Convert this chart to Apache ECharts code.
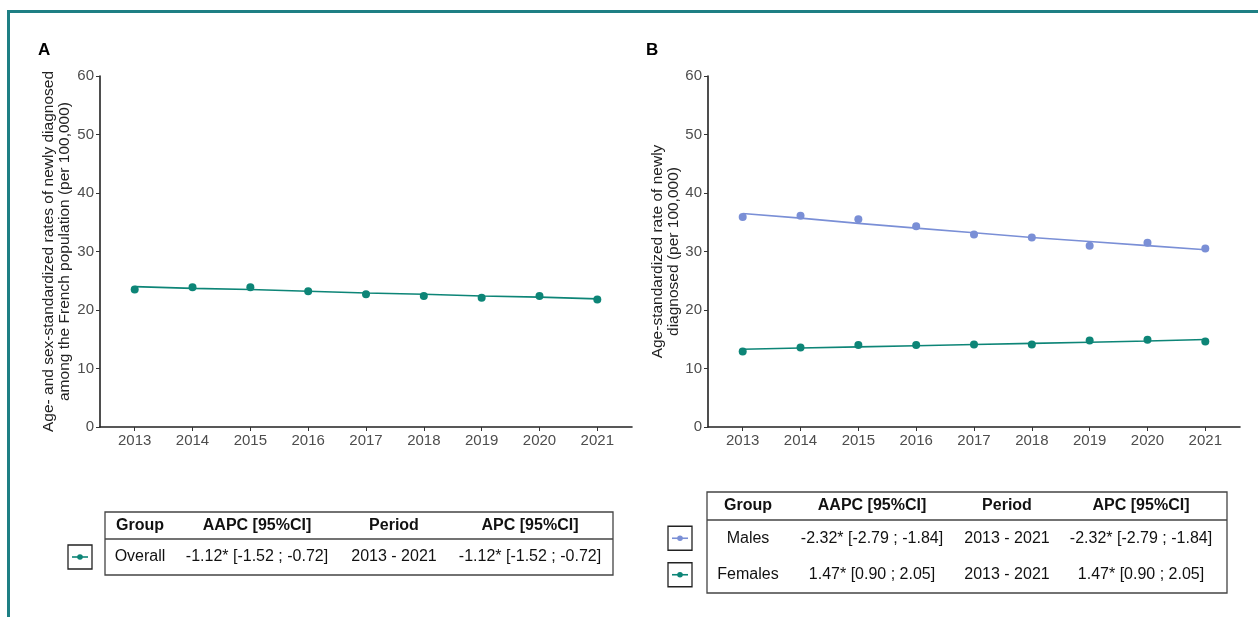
<!DOCTYPE html>
<html><head><meta charset="utf-8">
<script src="https://cdn.jsdelivr.net/npm/echarts@6/dist/echarts.min.js"></script>
<style>html,body{margin:0;padding:0;background:#fff}#c{width:1258px;height:617px}</style>
</head><body><div id="c"></div>
<script>
var years = [2013, 2014, 2015, 2016, 2017, 2018, 2019, 2020, 2021];
var yTicks = [0, 10, 20, 30, 40, 50, 60];
// Panel A
var overallObs = [23.5, 23.9, 23.9, 23.2, 22.7, 22.4, 22.1, 22.4, 21.8];
var overallFit = [24.0, 23.7, 23.5, 23.2, 22.9, 22.7, 22.4, 22.2, 21.9];
// Panel B
var malesObs = [35.9, 36.1, 35.5, 34.3, 32.9, 32.4, 31.0, 31.5, 30.5];
var malesFit = [36.5, 35.7, 34.8, 34.0, 33.2, 32.4, 31.7, 31.0, 30.3];
var femalesObs = [12.9, 13.6, 14.0, 14.0, 14.1, 14.1, 14.8, 14.9, 14.6];
var femalesFit = [13.3, 13.5, 13.7, 13.9, 14.1, 14.3, 14.5, 14.7, 14.95];
// Tables
var tableHeader = ['Group', 'AAPC [95%CI]', 'Period', 'APC [95%CI]'];
var tableA = [['Overall', '-1.12* [-1.52 ; -0.72]', '2013 - 2021', '-1.12* [-1.52 ; -0.72]']];
var tableB = [['Males', '-2.32* [-2.79 ; -1.84]', '2013 - 2021', '-2.32* [-2.79 ; -1.84]'],
              ['Females', '1.47* [0.90 ; 2.05]', '2013 - 2021', '1.47* [0.90 ; 2.05]']];

var TEAL = '#0d8577', BLUE = '#7a8fd6', FRAME = '#1e7f84';
var FONT = '"Liberation Sans", Arial, sans-serif';

function pairs(v){ return years.map(function(y,i){ return [y, v[i]]; }); }

function xAxis(gi){
  return {type:'value', gridIndex:gi, min:2012.4, max:2021.6,
    axisLine:{show:true, onZero:false, lineStyle:{color:'#222', width:1.6}},
    axisTick:{show:true, length:4, customValues:years, lineStyle:{color:'#333', width:1}},
    axisLabel:{customValues:years, formatter:function(v){return String(Math.round(v));}, color:'#4d4d4d', fontSize:15, fontFamily:FONT, margin:6},
    splitLine:{show:false}};
}
function yAxis(gi, name, gap){
  return {type:'value', gridIndex:gi, min:0, max:60, interval:10,
    name:name, nameLocation:'middle', nameGap:gap, nameRotate:90,
    nameTextStyle:{color:'#222', fontSize:15.5, fontFamily:FONT, lineHeight:16, align:'center'},
    axisLine:{show:true, lineStyle:{color:'#222', width:1.6}},
    axisTick:{show:true, length:4, lineStyle:{color:'#333', width:1}},
    axisLabel:{color:'#4d4d4d', fontSize:15, fontFamily:FONT, margin:6},
    splitLine:{show:false}};
}
function fitLine(name, gi, data, color){
  return {name:name, type:'line', xAxisIndex:gi, yAxisIndex:gi, data:pairs(data),
    showSymbol:false, lineStyle:{color:color, width:1.6}, itemStyle:{color:color}, silent:true, z:2};
}
function pts(name, gi, data, color){
  return {name:name, type:'scatter', xAxisIndex:gi, yAxisIndex:gi, data:pairs(data),
    symbolSize:8, itemStyle:{color:color, opacity:1}, z:3};
}

// table graphics
function table(x0, x1, y0, headH, rowH, colCenters, rows, colors, keyX){
  var g = [];
  var h = headH + rowH*rows.length;
  g.push({type:'rect', shape:{x:x0, y:y0, width:x1-x0, height:h}, style:{fill:'none', stroke:'#444', lineWidth:1.3}});
  g.push({type:'line', shape:{x1:x0, y1:y0+headH, x2:x1, y2:y0+headH}, style:{stroke:'#444', lineWidth:1.3}});
  tableHeader.forEach(function(t,i){
    g.push({type:'text', x:colCenters[i], y:y0+headH/2, style:{text:t, fill:'#111', font:'bold 16px '+FONT, align:'center', verticalAlign:'middle'}});
  });
  rows.forEach(function(r,ri){
    var cy = y0+headH+rowH*ri+rowH/2;
    r.forEach(function(t,i){
      g.push({type:'text', x:colCenters[i], y:cy, style:{text:t, fill:'#111', font:'16px '+FONT, align:'center', verticalAlign:'middle'}});
    });
    // legend key
    g.push({type:'rect', shape:{x:keyX, y:cy-12, width:24, height:24}, style:{fill:'#fff', stroke:'#222', lineWidth:1.3}});
    g.push({type:'line', shape:{x1:keyX+4, y1:cy, x2:keyX+20, y2:cy}, style:{stroke:colors[ri], lineWidth:1.6}});
    g.push({type:'circle', shape:{cx:keyX+12, cy:cy, r:2.8}, style:{fill:colors[ri]}});
  });
  return g;
}

var graphics = [
  {type:'polyline', shape:{points:[[8.5,617],[8.5,11.5],[1258,11.5]]}, style:{stroke:FRAME, lineWidth:3, fill:'none'}},
  {type:'text', x:38, y:42, style:{text:'A', fill:'#000', font:'bold 17px '+FONT}},
  {type:'text', x:646, y:42, style:{text:'B', fill:'#000', font:'bold 17px '+FONT}}
].concat(
  table(105, 613, 512, 27, 36, [140, 257, 394, 530], tableA, [TEAL], 68),
  table(707, 1227, 492, 28, 36.5, [748, 872, 1007, 1141], tableB, [BLUE, TEAL], 668)
);

var chart = echarts.init(document.getElementById('c'), null, {renderer:'canvas'});
chart.setOption({
  animation:false,
  backgroundColor:'#fff',
  textStyle:{fontFamily:FONT},
  grid:[{left:100, right:626, top:76, bottom:190},
        {left:708, right:18, top:76, bottom:190}],
  xAxis:[xAxis(0), xAxis(1)],
  yAxis:[yAxis(0, 'Age- and sex-standardized rates of newly diagnosed\namong the French population (per 100,000)', 27),
         yAxis(1, 'Age-standardized rate of newly\ndiagnosed (per 100,000)', 25)],
  series:[
    fitLine('Overall trend', 0, overallFit, TEAL),
    pts('Overall', 0, overallObs, TEAL),
    fitLine('Males trend', 1, malesFit, BLUE),
    pts('Males', 1, malesObs, BLUE),
    fitLine('Females trend', 1, femalesFit, TEAL),
    pts('Females', 1, femalesObs, TEAL)
  ],
  graphic:graphics
});
</script></body></html>
